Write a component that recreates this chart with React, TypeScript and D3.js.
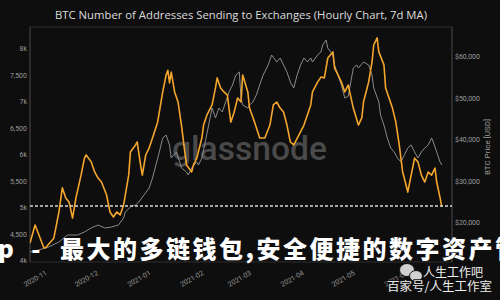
import React from "react";
import * as d3 from "d3";

const addrDates = [
  "2020-10-22","2020-10-25","2020-10-30","2020-10-31","2020-11-05","2020-11-08","2020-11-10","2020-11-12","2020-11-14","2020-11-16",
  "2020-11-18","2020-11-21","2020-11-23","2020-11-24","2020-11-27","2020-11-29","2020-12-01","2020-12-03","2020-12-06","2020-12-08",
  "2020-12-10","2020-12-12","2020-12-14","2020-12-16","2020-12-19","2020-12-20","2020-12-23","2020-12-24","2020-12-26","2020-12-27",
  "2020-12-29","2020-12-31","2021-01-02","2021-01-05","2021-01-08","2021-01-10","2021-01-11","2021-01-12","2021-01-13","2021-01-15",
  "2021-01-17","2021-01-19","2021-01-21","2021-01-22","2021-01-25","2021-01-26","2021-01-28","2021-01-31","2021-02-01","2021-02-03",
  "2021-02-06","2021-02-08","2021-02-09","2021-02-11","2021-02-13","2021-02-15","2021-02-17","2021-02-19","2021-02-21","2021-02-23",
  "2021-02-24","2021-02-27","2021-02-28","2021-03-03","2021-03-06","2021-03-09","2021-03-12","2021-03-14","2021-03-16","2021-03-18",
  "2021-03-20","2021-03-22","2021-03-24","2021-03-26","2021-03-29","2021-04-01","2021-04-03","2021-04-05","2021-04-06","2021-04-09",
  "2021-04-11","2021-04-13","2021-04-15","2021-04-18","2021-04-19","2021-04-21","2021-04-23","2021-04-25","2021-04-27","2021-04-30",
  "2021-05-03","2021-05-05","2021-05-06","2021-05-09","2021-05-11","2021-05-12","2021-05-14","2021-05-15","2021-05-18","2021-05-19",
  "2021-05-21","2021-05-23","2021-05-25","2021-05-27","2021-05-29","2021-05-31","2021-06-01","2021-06-03","2021-06-05","2021-06-07",
  "2021-06-09","2021-06-11","2021-06-13","2021-06-15","2021-06-17","2021-06-18","2021-06-20","2021-06-21"
];
const addrValues = [
  4340,4680,4260,4245,4430,4925,5380,5190,5110,4810,
  5190,5620,5940,6000,5870,5680,5565,5490,5245,4925,
  4830,4925,4870,5055,5620,6055,6190,6245,5810,5620,
  6000,6130,6320,6620,7190,7510,7600,7360,7565,7190,
  7000,6565,6055,5810,5680,5810,5940,6320,6565,6755,
  6945,7265,7455,7265,7190,7130,6620,6810,7075,7000,
  7510,7190,6885,6620,6320,6320,6565,6945,7000,6885,
  6810,6565,6245,6190,6375,6565,6755,6945,7190,7375,
  7470,7455,7830,7945,7640,7510,7375,7190,7320,6885,
  6565,6700,7000,7375,7755,8075,8210,7945,7700,7265,
  7075,6885,6620,6190,5680,5435,5300,5620,5940,5870,
  5620,5490,5680,5620,5755,5490,5190,5020
];

const priceDates = [
  "2020-10-22","2020-10-27","2020-11-02","2020-11-08","2020-11-13","2020-11-19","2020-11-23","2020-11-27","2020-12-01","2020-12-05",
  "2020-12-09","2020-12-13","2020-12-16","2020-12-17","2020-12-20","2020-12-23","2020-12-25","2020-12-28","2020-12-31","2021-01-02",
  "2021-01-04","2021-01-06","2021-01-08","2021-01-10","2021-01-12","2021-01-13","2021-01-16","2021-01-18","2021-01-19","2021-01-22",
  "2021-01-23","2021-01-25","2021-01-28","2021-01-29","2021-01-31","2021-02-02","2021-02-04","2021-02-06","2021-02-08","2021-02-10",
  "2021-02-12","2021-02-14","2021-02-16","2021-02-18","2021-02-20","2021-02-22","2021-02-23","2021-02-24","2021-02-27","2021-02-28",
  "2021-03-02","2021-03-04","2021-03-06","2021-03-08","2021-03-11","2021-03-13","2021-03-16","2021-03-18","2021-03-20","2021-03-22",
  "2021-03-24","2021-03-26","2021-03-28","2021-03-30","2021-04-01","2021-04-03","2021-04-05","2021-04-06","2021-04-09","2021-04-11",
  "2021-04-12","2021-04-14","2021-04-15","2021-04-18","2021-04-19","2021-04-21","2021-04-23","2021-04-25","2021-04-27","2021-04-30",
  "2021-05-02","2021-05-03","2021-05-06","2021-05-09","2021-05-11","2021-05-12","2021-05-15","2021-05-16","2021-05-18","2021-05-20",
  "2021-05-22","2021-05-24","2021-05-26","2021-05-28","2021-05-30","2021-06-01","2021-06-03","2021-06-05","2021-06-07","2021-06-09",
  "2021-06-11","2021-06-13","2021-06-15","2021-06-16","2021-06-18","2021-06-20","2021-06-21"
];
const priceValues = [
  13010,13490,14220,15420,17110,17110,17830,18800,19520,18800,
  19040,19520,21200,22650,23860,24340,25060,26750,28430,30840,
  33980,37110,40480,41200,38800,35660,37110,34700,33250,32290,
  31570,33250,34700,33980,35660,39520,43610,47710,45300,47710,
  46750,49160,51570,53250,55660,56390,50120,48430,47710,48430,
  49160,50840,53250,55660,58070,60480,58800,59760,58070,56390,
  53980,52530,55660,58070,59760,58800,59760,58800,60480,61200,
  62890,64100,62170,60480,58070,55660,53250,50120,50500,57350,
  58070,57350,58800,58070,55660,52530,49160,46020,43610,40480,
  38070,37110,35660,34700,36390,38070,38800,37110,35660,37110,
  38070,38800,40480,39520,37110,34700,33980
];

const leftTicks = [4000, 4500, 5000, 5500, 6000, 6500, 7000, 7500, 8000];
const rightTicks = [20000, 30000, 40000, 50000, 60000];
const monthTicks = ["2020-11", "2020-12", "2021-01", "2021-02", "2021-03", "2021-04", "2021-05", "2021-06"];
const refLevel = 5040;
const titleText = "BTC Number of Addresses Sending to Exchanges (Hourly Chart, 7d MA)";
const rightAxisLabel = "BTC Price [USD]";
const overlayHead = "p -";
const overlayText = "最大的多链钱包,安全便捷的数字资产管";
const wmLine1 = "人生工作吧";
const wmLine2 = "百家号/人生工作室";

export default function App() {
  const W = 500, H = 300;
  const L = 30, R = 452, T = 27, B = 262;
  const parse = d3.timeParse("%Y-%m-%d");
  const x = d3.scaleTime().domain([parse("2020-10-22")!, parse("2021-06-27")!]).range([L, R]);
  const yL = d3.scaleLinear().domain([4000, 8000]).range([261, 49]);
  const yR = d3.scaleLinear().domain([20000, 60000]).range([223, 57]);

  const addr = addrDates.map((d, i) => ({ d: parse(d)!, v: addrValues[i] }));
  const price = priceDates.map((d, i) => ({ d: parse(d)!, v: priceValues[i] }));

  const addrLine = d3.line<{ d: Date; v: number }>().x(p => x(p.d)).y(p => yL(p.v));
  const priceLine = d3.line<{ d: Date; v: number }>().x(p => x(p.d)).y(p => yR(p.v));

  const fmtL = (v: number) => (v % 1000 === 0 ? `${v / 1000}k` : d3.format(",")(v));
  const fmtR = (v: number) => "$" + d3.format(",")(v);
  const parseMonth = d3.timeParse("%Y-%m");
  const axisFont = "Roboto, 'Open Sans', sans-serif";

  return (
    <svg width={W} height={H} style={{ position: "absolute", left: 0, top: 0, background: "#0e0e0e" }}>
      <rect x={0} y={0} width={W} height={H} fill="#0e0e0e" />
      <defs>
        <clipPath id="plot">
          <rect x={L} y={T} width={R - L} height={B - T} />
        </clipPath>
      </defs>
      <text x={241} y={19} textAnchor="middle" fontSize={11} fill="#dcdcdc" fontFamily="'Open Sans', sans-serif" textLength={372} lengthAdjust="spacingAndGlyphs">{titleText}</text>
      <rect x={L} y={T} width={R - L} height={B - T} fill="none" stroke="#2e2e2e" strokeWidth={1} />
      <line x1={L} x2={L} y1={T} y2={B} stroke="#3a3a3a" />
      <line x1={R} x2={R} y1={T} y2={B} stroke="#3a3a3a" />

      <text x={172} y={160} fontSize={33} fill="#4a4a4a" fontFamily="Roboto, sans-serif" fontWeight={500} textLength={155} lengthAdjust="spacingAndGlyphs">glassnode</text>

      {leftTicks.map(t => (
        <text key={t} x={27} y={yL(t)} dy="0.35em" textAnchor="end" fontSize={7} fill="#9a9a9a" fontFamily={axisFont}>{fmtL(t)}</text>
      ))}
      {rightTicks.map(t => (
        <text key={t} x={455} y={yR(t)} dy="0.35em" textAnchor="start" fontSize={7} fill="#9a9a9a" fontFamily={axisFont}>{fmtR(t)}</text>
      ))}
      <text transform={`translate(490,147) rotate(-90)`} textAnchor="middle" fontSize={8} fill="#9a9a9a" fontFamily={axisFont}>{rightAxisLabel}</text>

      {monthTicks.map(m => {
        const tx = x(parseMonth(m)!);
        return (
          <text key={m} transform={`translate(${tx - 2},270) rotate(-30)`} textAnchor="end" dy="0.71em" fontSize={7} fill="#9a9a9a" fontFamily={axisFont}>{m}</text>
        );
      })}

      <g clipPath="url(#plot)">
        <path d={priceLine(price)!} fill="none" stroke="#8a8a8a" strokeWidth={1} strokeLinejoin="round" />
        <path d={addrLine(addr)!} fill="none" stroke="#f4a52c" strokeWidth={1.6} strokeLinejoin="round" />
      </g>

      <line x1={L} x2={R} y1={yL(refLevel)} y2={yL(refLevel)} stroke="#d8d8d8" strokeWidth={1.5} strokeDasharray="3,2" />

      <text x={-2} y={258} fontSize={24} fill="#ffffff" fontWeight={900} fontFamily="'Noto Sans CJK SC', sans-serif" letterSpacing={6}>{overlayHead}</text>
      <text x={60} y={258} fontSize={24} fill="#ffffff" fontWeight={900} fontFamily="'Noto Sans CJK SC', sans-serif" letterSpacing={2.5}>{overlayText}</text>

      <g>
        <ellipse cx={407} cy={270} rx={7.5} ry={6.5} fill="#d0d0d0" stroke="#111" strokeWidth={1} />
        <ellipse cx={416} cy={276} rx={6.5} ry={5.5} fill="#d0d0d0" stroke="#111" strokeWidth={1} />
        <text x={423} y={277} fontSize={12} fill="#eeeeee" stroke="#111" strokeWidth={2} paintOrder="stroke" fontFamily="'Noto Sans CJK SC', sans-serif">{wmLine1}</text>
        <text x={387} y={291} fontSize={12} fill="#eeeeee" stroke="#111" strokeWidth={2} paintOrder="stroke" fontFamily="'Noto Sans CJK SC', sans-serif" textLength={105} lengthAdjust="spacingAndGlyphs">{wmLine2}</text>
      </g>
    </svg>
  );
}
